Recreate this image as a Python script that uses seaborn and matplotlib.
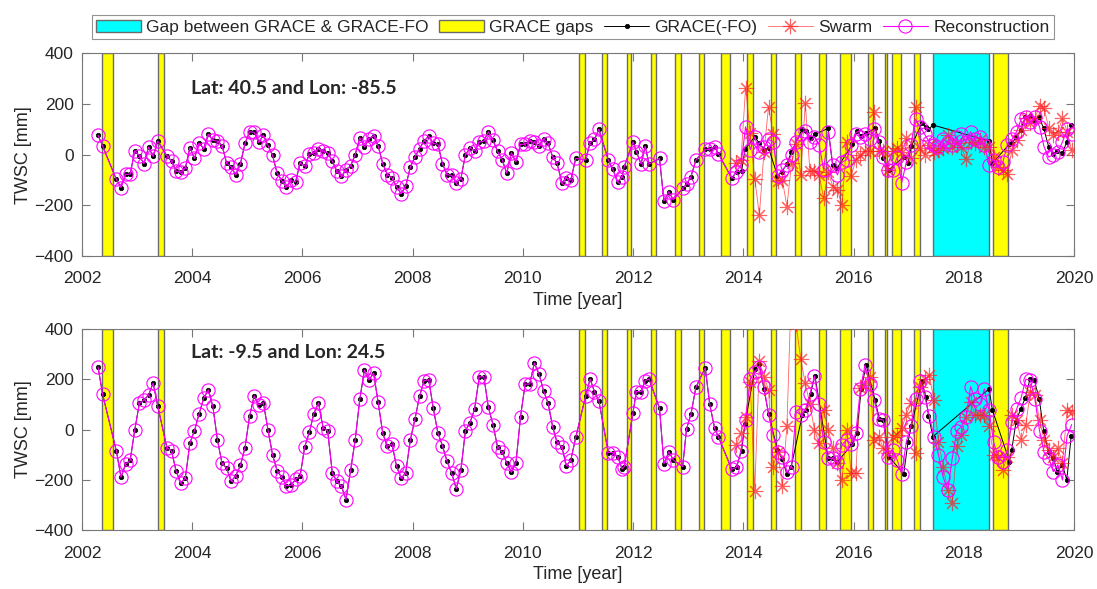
import numpy as np
import pandas as pd
import matplotlib
matplotlib.use("Agg")
import matplotlib.pyplot as plt
import seaborn as sns

# Gap periods (decimal years)
grace_gaps = [(2002.37, 2002.57), (2003.38, 2003.49), (2011.01, 2011.12), (2011.43, 2011.53),
              (2011.89, 2011.96), (2012.32, 2012.42), (2012.76, 2012.87), (2013.19, 2013.29),
              (2013.59, 2013.75), (2014.06, 2014.18), (2014.50, 2014.59), (2014.93, 2015.04),
              (2015.37, 2015.50), (2015.75, 2015.95), (2016.26, 2016.36), (2016.58, 2016.61),
              (2016.69, 2016.86), (2017.09, 2017.20), (2018.54, 2018.80)]
mission_gap = (2017.44, 2018.45)

# GRACE months 2002-04 .. 2010-06 (regular monthly solutions)
early_months = pd.period_range("2002-04", "2010-06", freq="M")
early_months = early_months[~early_months.astype(str).isin(["2002-06", "2002-07", "2003-06"])]
early_t = [p.year + (p.month - 0.5) / 12 for p in early_months]

# GRACE(-FO) dates after mid 2010 (irregular)
late_t = [2010.54, 2010.62, 2010.71, 2010.79, 2010.87, 2010.96,
          2011.14, 2011.22, 2011.30, 2011.38,
          2011.55, 2011.63, 2011.72, 2011.80, 2011.84,
          2012.00, 2012.06, 2012.145, 2012.22, 2012.29,
          2012.48, 2012.56, 2012.65, 2012.73,
          2012.90, 2012.97, 2013.05, 2013.14,
          2013.31, 2013.39, 2013.48, 2013.55,
          2013.79, 2013.88, 2013.97, 2014.03,
          2014.21, 2014.29, 2014.375, 2014.46,
          2014.62, 2014.70, 2014.79, 2014.87,
          2015.07, 2015.14, 2015.22, 2015.30,
          2015.54, 2015.62, 2015.70,
          2015.98, 2016.06, 2016.14, 2016.23,
          2016.39, 2016.47, 2016.54,
          2016.64,
          2016.91, 2016.99, 2017.05,
          2017.24, 2017.31, 2017.36, 2017.44,
          2018.46, 2018.52,
          2018.83, 2018.87, 2018.95, 2019.03, 2019.12, 2019.20, 2019.28, 2019.37,
          2019.45, 2019.54, 2019.62, 2019.70, 2019.79, 2019.87, 2019.95]

# Swarm / reconstruction months 2013-11 .. 2019-12
swarm_months = pd.period_range("2013-11", "2019-12", freq="M")
swarm_t = [p.year + (p.month - 0.5) / 12 for p in swarm_months]

# ---- Lat 40.5, Lon -85.5 ----
grace_top_early = [77, 34, -98, -130, -78, -77, 15,
                   -4, -36, 30, -7, 54, -5, -26, -65, -69, -54, 28,
                   -15, 46, 24, 81, 57, 53, 36, -33, -49, -81, -36, 44,
                   90, 88, 48, 77, 37, -3, -73, -103, -128, -102, -108, -33,
                   -45, 1, 7, 24, 15, 7, -25, -65, -86, -59, -45, 0,
                   67, 30, 63, 75, 34, -36, -79, -91, -127, -154, -124, -49,
                   -9, 24, 54, 73, 44, 41, -36, -79, -82, -111, -95, 0,
                   26, 15, 50, 53, 90, 57, 13, -20, -73, 8, -29, 41,
                   41, 54, 48, 34, 63, 44]
grace_top_late = [-8, -34, -111, -91, -100, -15,
                  -21, 47, 60, 100,
                  -21, -57, -107, -88, -47,
                  51, 12, -37, 33, -37,
                  -15, -183, -146, -179,
                  -133, -117, -87, -21,
                  21, 21, 32, 3,
                  -93, -67, -65, 21,
                  71, 44, 20, 25,
                  -83, -67, -38, 10,
                  101, 93, 64, 80,
                  104, -41, -54,
                  41, 93, 75, 84,
                  104, 55, -15,
                  -61,
                  -8, -32, 34,
                  124, 110, 100, 117,
                  54, -34,
                  42, 47, 68, 97, 147, 153, 137, 147, 104, 32, 3, 16, 5, 51, 117]
swarm_top = [-34, -21,
             264, 84, -96, -238, 10, 189, 80, -104, -100, -205, -34, 41,
             -80, 203, -64, -64, -80, -172, -70, -126, -140, -199, 51, -83,
             -21, 0, 14, 14, 170, 14, 14, -61, 14, 25, 12, 64,
             -15, 189, 25, -1, 38, 12, 18, 25, 78, 32, 45, 30,
             -18, 51, 45, 58, 32, 32, -8, -47, -61, -76, 18, 58,
             97, 143, 124, 143, 192, 183, 104, 78, 91, 143, 91, 18]
recon_top_late = [-67, -40,
                  110, 20, 70, 10, 30, 60, 50, -83, -60, -40, 0, 50,
                  80, 95, 50, 70, 40, -60, 90, -40, -80, -30, -20, 40,
                  80, 70, 80, 60, 100, 50, -10, -60, -60, -10, -110, -30,
                  40, 140, 110, 80, 50, 40, 30, 60, 50, 40, 70, 80,
                  50, 90, 60, 70, 40, -40, -20, -50, -30, 40, 60, 90,
                  140, 150, 130, 150, 110, 30, -10, 0, 10, 50, 100, 80]

# ---- Lat -9.5, Lon 24.5 ----
grace_bot_early = [250, 140, -85, -189, -137, -122, -1,
                   104, 118, 137, 185, 94, -72, -84, -165, -211, -194, -54,
                   -4, 62, 124, 158, 93, -41, -134, -154, -205, -183, -142, -72,
                   54, 134, 98, 107, 0, -100, -163, -190, -223, -221, -198, -185,
                   -69, -11, 64, 106, 8, -4, -171, -206, -225, -278, -161, -40,
                   121, 237, 197, 225, 108, -15, -66, -58, -145, -194, -171, -41,
                   41, 132, 195, 198, 85, -13, -64, -126, -173, -235, -162, -4,
                   28, 82, 209, 211, 88, 20, -69, -89, -132, -170, -132, 52,
                   181, 181, 265, 222, 155, 105]
grace_bot_late = [12, -50, -70, -144, -121, -31,
                  134, 201, 151, 114,
                  -91, -91, -107, -156, -147,
                  68, 151, 151, 195, 201,
                  85, -136, -87, -121,
                  -147, 3, 61, 168,
                  246, 102, 5, -30,
                  -157, -147, -83, 23,
                  240, 260, 160, 61,
                  -80, -115, -176, -147,
                  58, 78, 142, 215,
                  -114, -114, -130,
                  -57, -15, 162, 257,
                  118, 42, 38,
                  -107,
                  -176, -48, 15,
                  193, 131, 56, -28,
                  162, 78,
                  -127, -81, 32, 81, 127, 200, 197, 122, -4, -90, -114, -167, -140, -200, -25]
swarm_bot = [-60, -14,
             52, 191, -242, 271, 211, 158, -147, -87, -226, 15, 580, 420,
             280, 184, 100, -1, -54, 76, -1, -74, -134, -200, -1, -173,
             -173, 164, 177, 211, -41, -28, -74, -94, -28, -21, 5, 60,
             105, -94, 171, 200, 217, 118, -48, -147, -240, -290, -65, -21,
             52, 111, 58, 58, 58, 15, -101, -107, -160, -107, 58, 38,
             -41, 18, 151, 138, 38, -40, -81, -107, -74, -134, 78, 70]
recon_bot_late = [-150, -83,
                  40, 200, 230, 250, 170, 60, -20, -90, -110, -170, -147, 70,
                  60, 78, 140, 213, 100, -50, -114, -114, -130, -60, -40, -57,
                  -15, 162, 257, 180, 118, 42, 38, -107, -80, -120, -176, -48,
                  15, 120, 193, 131, 56, -28, -100, -187, -240, -114, -5, 12,
                  50, 171, 120, 100, 162, 78, -50, -110, -127, -81, 32, 81,
                  127, 200, 197, 122, -4, -90, -114, -167, -140, -200, -25, 20]

panels = [
    ("Lat: 40.5 and Lon: -85.5", grace_top_early + grace_top_late, swarm_top, recon_top_late, 263),
    ("Lat: -9.5 and Lon: 24.5", grace_bot_early + grace_bot_late, swarm_bot, recon_bot_late, 306),
]

sns.set_style("ticks")
plt.rcParams["font.family"] = ["Liberation Sans", "DejaVu Sans"]

fig = plt.figure(figsize=(10.97, 5.89), dpi=100)
axes = [fig.add_axes([0.0747, 0.5654, 0.9043, 0.3441]),
        fig.add_axes([0.0747, 0.0997, 0.9043, 0.3418])]

grace_t = early_t + late_t
edge = "#6b6b6b"

for ax, (title, grace_v, swarm_v, recon_late_v, text_y) in zip(axes, panels):
    # gap shading
    ax.axvspan(*mission_gap, facecolor="#00ffff", edgecolor=edge, lw=1, zorder=1,
               label="Gap between GRACE & GRACE-FO")
    for i, (a, b) in enumerate(grace_gaps):
        ax.axvspan(a, b, facecolor="#ffff00", edgecolor=edge, lw=1, zorder=1,
                   label="GRACE gaps" if i == 0 else None)

    grace = pd.DataFrame({"t": grace_t, "v": grace_v})
    swarm = pd.DataFrame({"t": swarm_t, "v": swarm_v})
    recon = pd.concat([grace[grace["t"] < 2013.8],
                       pd.DataFrame({"t": swarm_t, "v": recon_late_v})], ignore_index=True)

    sns.lineplot(data=grace, x="t", y="v", ax=ax, color="black", lw=0.7,
                 marker="o", markersize=3.2, markeredgecolor="black", markeredgewidth=0.5,
                 label="GRACE(-FO)", zorder=3)
    sns.lineplot(data=swarm, x="t", y="v", ax=ax, color="#ff2020", lw=0.6, alpha=0.7,
                 marker=(8, 2, 0), markersize=11, markeredgecolor="#ff2020",
                 markeredgewidth=0.8, label="Swarm", zorder=3.2)
    sns.lineplot(data=recon, x="t", y="v", ax=ax, color="#ff00ff", lw=0.8,
                 marker="o", markersize=9.5, markerfacecolor="none",
                 markeredgecolor="#ff00ff", markeredgewidth=0.8,
                 label="Reconstruction", zorder=3.5)

    ax.text(2003.98, text_y, title, fontsize=14, fontweight="bold",
            family=["Lato", "DejaVu Sans"], va="center", ha="left")

    ax.set_xlim(2002, 2020)
    ax.set_ylim(-400, 400)
    ax.set_xticks(np.arange(2002, 2021, 2))
    ax.set_yticks([-400, -200, 0, 200, 400])
    ax.tick_params(direction="in", length=6, width=0.8, top=True, right=True,
                   labelsize=12.5, colors="#777777", labelcolor="#262626")
    ax.tick_params(axis="x", pad=11)
    ax.tick_params(axis="y", pad=6)
    for s in ax.spines.values():
        s.set_color("#777777")
        s.set_linewidth(0.8)
    ax.set_xlabel("Time [year]", fontsize=13, color="#262626", labelpad=4)
    ax.set_ylabel("TWSC [mm]", fontsize=13, color="#262626", labelpad=2)
    if ax.get_legend() is not None:
        ax.get_legend().remove()

handles, labels = axes[0].get_legend_handles_labels()
order = ["Gap between GRACE & GRACE-FO", "GRACE gaps", "GRACE(-FO)", "Swarm", "Reconstruction"]
hmap = dict(zip(labels, handles))
leg = fig.legend([hmap[k] for k in order], order, loc="center", bbox_to_anchor=(0.522, 0.954),
                 ncol=5, fontsize=12.5, frameon=True, fancybox=False, edgecolor="#777777",
                 handlelength=2.6, handletextpad=0.3, columnspacing=0.6, borderpad=0.25,
                 borderaxespad=0)
leg.get_frame().set_linewidth(0.8)

fig.savefig("out.png", dpi=100)
